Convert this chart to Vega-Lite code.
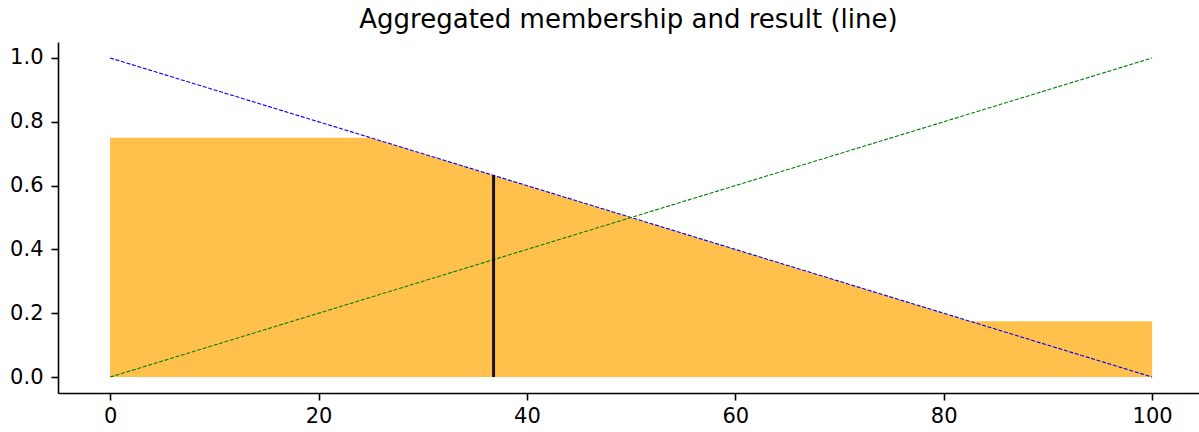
{
  "$schema": "https://vega.github.io/schema/vega-lite/v6.json",
  "autosize": {"type": "none"},
  "padding": {"left": 58, "top": 42, "right": 0, "bottom": 39},
  "width": 1141,
  "height": 351,
  "background": "white",
  "config": {
    "view": {"stroke": null},
    "font": "DejaVu Sans",
    "axis": {
      "grid": false,
      "domainColor": "black",
      "domainWidth": 1.6,
      "tickColor": "black",
      "tickWidth": 1.6,
      "tickSize": 7,
      "labelFont": "DejaVu Sans",
      "labelFontSize": 21,
      "labelColor": "black",
      "titleFontSize": 0
    }
  },
  "title": {
    "text": "Aggregated membership and result (line)",
    "font": "DejaVu Sans",
    "fontSize": 26,
    "fontWeight": "normal",
    "color": "black",
    "offset": 9
  },
  "datasets": {
    "aggregated": [
      {"x": 0, "y": 0.75},
      {"x": 25, "y": 0.75},
      {"x": 82.5, "y": 0.175},
      {"x": 100, "y": 0.175}
    ],
    "lines": [
      {"series": "low", "x": 0, "y": 1.0},
      {"series": "low", "x": 100, "y": 0.0},
      {"series": "high", "x": 0, "y": 0.0},
      {"series": "high", "x": 100, "y": 1.0}
    ],
    "result": [
      {"x": 36.8, "y0": 0, "y1": 0.632}
    ]
  },
  "encoding": {
    "x": {
      "field": "x",
      "type": "quantitative",
      "scale": {"domain": [-5, 104.5], "nice": false, "zero": false},
      "axis": {"values": [0, 20, 40, 60, 80, 100], "labelPadding": 5, "title": null, "labelFlush": false}
    }
  },
  "layer": [
    {
      "data": {"name": "aggregated"},
      "mark": {"type": "area", "color": "#ffa500", "opacity": 0.7, "line": false},
      "encoding": {
        "y": {
          "field": "y",
          "type": "quantitative",
          "scale": {"domain": [-0.05, 1.05], "nice": false, "zero": false},
          "axis": {"values": [0, 0.2, 0.4, 0.6, 0.8, 1.0], "format": ".1f", "labelPadding": 8, "title": null, "labelFlush": false}
        },
        "y2": {"datum": 0}
      }
    },
    {
      "data": {"name": "lines"},
      "mark": {"type": "line", "strokeWidth": 1.1, "strokeDash": [4, 1.7]},
      "encoding": {
        "y": {"field": "y", "type": "quantitative"},
        "detail": {"field": "series"},
        "color": {
          "field": "series",
          "type": "nominal",
          "scale": {"domain": ["low", "high"], "range": ["#0000ff", "#008000"]},
          "legend": null
        }
      }
    },
    {
      "data": {"name": "result"},
      "mark": {"type": "rule", "color": "black", "opacity": 0.9, "strokeWidth": 3},
      "encoding": {
        "y": {"field": "y0", "type": "quantitative"},
        "y2": {"field": "y1"}
      }
    }
  ]
}
